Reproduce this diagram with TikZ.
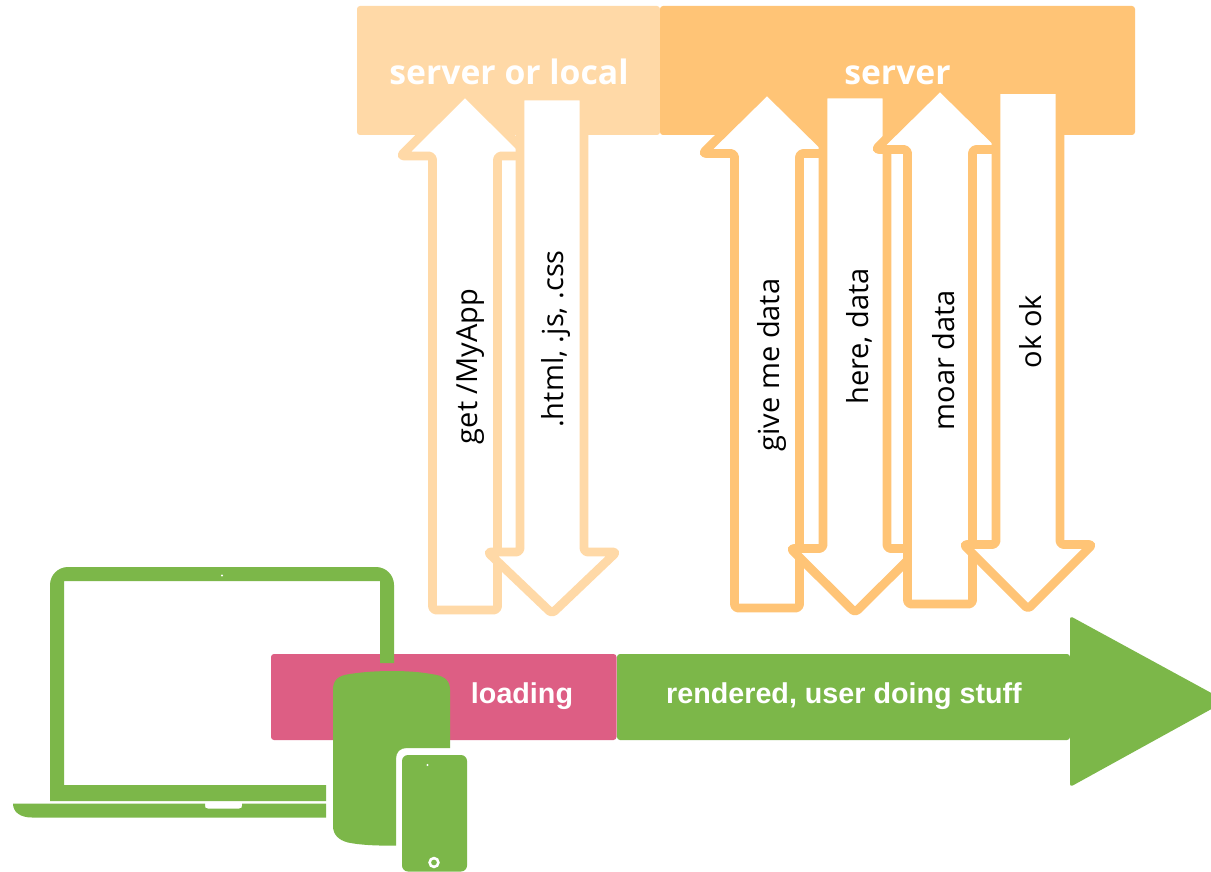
\documentclass[tikz,border=0pt]{standalone}
\usepackage{fontspec}
\setmainfont{Open Sans}
\newfontfamily\barfont{Liberation Sans}
\definecolor{lightor}{HTML}{FFD9A7}
\definecolor{midor}{HTML}{FFC476}
\definecolor{pinkbar}{HTML}{DD5E84}
\definecolor{greenbar}{HTML}{7CB749}
\tikzset{
  band/.style={rounded corners=3pt},
  flow/.style={draw=#1,fill=white,line width=8.8pt,line join=round,rounded corners=3.5pt},
  vlabel/.style={rotate=90,anchor=center,text=black,font=\fontsize{29}{33}\selectfont,inner sep=0pt},
  headlabel/.style={anchor=center,text=white,font=\fontsize{33.7}{38}\selectfont\bfseries,inner sep=0pt},
  barlabel/.style={anchor=center,text=white,font=\barfont\fontsize{28.7}{32}\selectfont\bfseries,inner sep=0pt},
  device/.style={fill=greenbar,draw=none}
}
% #1 colour, #2 centre x, #3 half shaft, #4 tip y, #5 wing y, #6 end y
\newcommand{\uparrowshape}[6]{%
  \draw[flow=#1] (#2,#4) -- ({#2+64.5},#5) -- ({#2+#3},#5) -- ({#2+#3},#6) -- ({#2-#3},#6) -- ({#2-#3},#5) -- ({#2-64.5},#5) -- cycle;}
\begin{document}
\begin{tikzpicture}[x=1pt,y=-1pt]
\useasboundingbox (0,0) rectangle (1211,872);
\fill[white] (0,0) rectangle (1211,872);
% header bands
\fill[lightor,band] (357,6) rectangle (660,135);
\fill[midor,band] (660,6) rectangle (1135,135);
% request / response arrows
\uparrowshape{lightor}{465}{32.5}{92}{156}{610}
\uparrowshape{lightor}{552}{32}{613.5}{552}{96}
\uparrowshape{midor}{767}{32.5}{90}{153.5}{608}
\uparrowshape{midor}{855}{32}{612.5}{548.5}{94}
\uparrowshape{midor}{940}{32.5}{86}{149.5}{604}
\uparrowshape{midor}{1028}{32}{609}{544.5}{89.5}
% timeline
\fill[pinkbar,band] (271,654) rectangle (616.5,740);
\fill[greenbar,band] (617,654) rectangle (1070,740);
\fill[greenbar,rounded corners=3pt] (1070,616) -- (1226,701) -- (1070,787) -- cycle;
% laptop
\fill[device,even odd rule,rounded corners=0pt]
  (50,801) -- (50,585) arc[start angle=180,end angle=270,radius=18] -- (376,567) arc[start angle=270,end angle=360,radius=18] -- (394,663) -- (380,663) -- (380,581) -- (64,581) -- (64,785) -- (326,785) -- (326,801) -- cycle;
\fill[device] (13,803.5) -- (205,803.5) -- (205,806) .. controls (205,808) and (206,808.5) .. (208,808.5) -- (239,808.5) .. controls (241,808.5) and (242,808) .. (242,806) -- (242,803.5) -- (326,803.5) -- (326,817.5) -- (32,817.5) .. controls (20,817.5) and (13,812) .. (13,803.5) -- cycle;
\fill[white] (222,575.5) circle (1.1);
% tablet
\fill[device] (333,690) .. controls (333,680) and (338,675.5) .. (350,674) .. controls (375,670) and (410,670) .. (431,674) .. controls (444,675.5) and (450,680) .. (450,690) -- (450,748) -- (407,748) .. controls (400,748) and (396,752) .. (396,759) -- (396,845.7) .. controls (375,845.7) and (360,845) .. (348,842.5) .. controls (338,840) and (333,834) .. (333,826) -- cycle;
% phone
\fill[device,rounded corners=6pt] (402,755) rectangle (467,871.5);
\fill[white] (427.5,765) circle (1.1);
\draw[white,line width=2.6pt] (434,862.5) circle (4.4);
% texts
\node[headlabel] (hlocal) at (509,72) {server or local};
\node[headlabel] (hserver) at (897.5,75.5) {server};
\node[vlabel] (lget) at (471,366.5) {get /MyApp};
\node[vlabel] (lhtml) at (556,339) {.html, .js, .css};
\node[vlabel] (lgive) at (772,365) {give me data};
\node[vlabel] (lhere) at (859,336.5) {here, data};
\node[vlabel] (lmoar) at (943.5,360) {moar data};
\node[vlabel] (lok) at (1031,331.5) {ok ok};
\node[barlabel] (lload) at (522,696) {loading};
\node[barlabel] (lrend) at (844,696) {rendered, user doing stuff};
\end{tikzpicture}
\end{document}
